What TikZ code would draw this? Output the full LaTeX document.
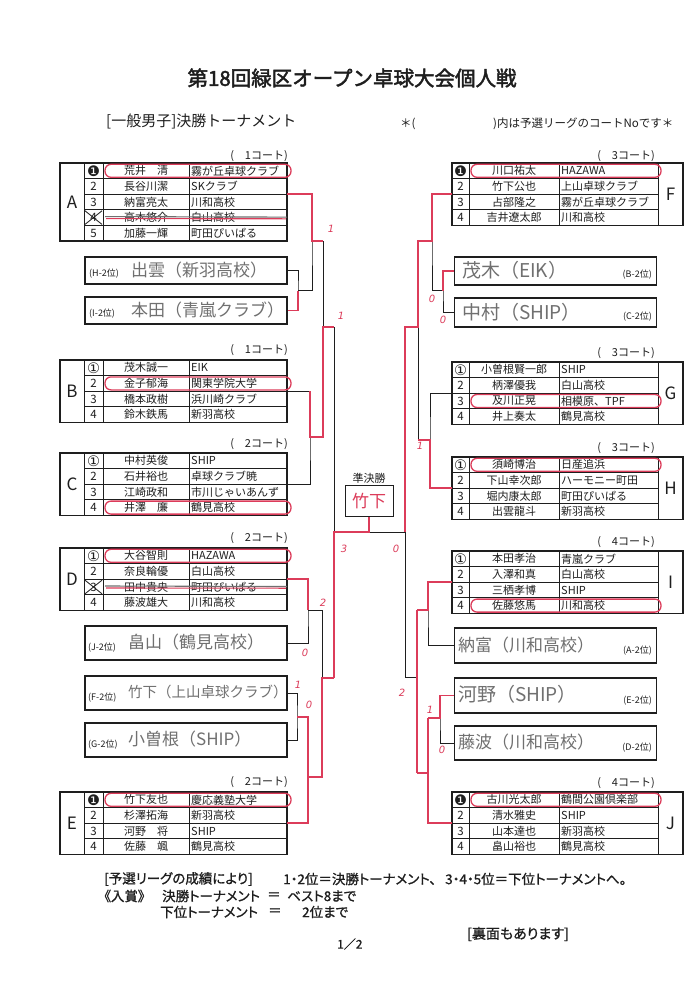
\documentclass[tikz,border=0pt]{standalone}
\usepackage{fontspec}
\setmainfont{Noto Sans CJK JP}
\newfontfamily\jpp{Noto Sans CJK JP}[RawFeature=+palt,FakeBold=1]
\newfontfamily\jpb{Noto Sans CJK JP}[FakeBold=2.2]
\newfontfamily\djfont{DejaVu Sans}
\definecolor{ink}{HTML}{1E1E1E}
\definecolor{penred}{HTML}{DC3C5A}
\definecolor{pencil}{HTML}{707070}
\newcommand\cn[1]{{\djfont\fontsize{14.5}{14.5}\selectfont #1}}

\newcommand\Ltab[4]{%
  \pgfmathsetmacro\yb{#1+#3*15.6}%
  \draw[tline] (60,#1) rectangle (287,\yb);%
  \draw[iline] (84,#1) -- (84,\yb) (103,#1) -- (103,\yb) (189,#1) -- (189,\yb);%
  \foreach \k in {2,...,#3}{\draw[iline] (84,{#1+(\k-1)*15.6}) -- (287,{#1+(\k-1)*15.6});}%
  \node[lett] (#2) at (72,{(#1+\yb)/2}) {#2};%
  \foreach \nv/\nm/\cb [count=\i] in {#4}{%
    \node[numt] (#2\i) at (93.5,{#1+(\i-0.5)*15.6}) {\nv};%
    \node[namet] (#2\i n) at (146,{#1+(\i-0.5)*15.6}) {\nm};%
    \node[clubt] (#2\i c) at (191,{#1+(\i-0.5)*15.6}) {\cb};%
  }%
}
\newcommand\Rtab[4]{%
  \pgfmathsetmacro\yb{#1+#3*15.6}%
  \draw[tline] (452,#1) rectangle (683,\yb);%
  \draw[iline] (469,#1) -- (469,\yb) (559,#1) -- (559,\yb) (658,#1) -- (658,\yb);%
  \foreach \k in {2,...,#3}{\draw[iline] (452,{#1+(\k-1)*15.6}) -- (658,{#1+(\k-1)*15.6});}%
  \node[lett] (#2) at (670.5,{(#1+\yb)/2}) {#2};%
  \foreach \nv/\nm/\cb [count=\i] in {#4}{%
    \node[numt] (#2\i) at (460.5,{#1+(\i-0.5)*15.6}) {\nv};%
    \node[namet] (#2\i n) at (514,{#1+(\i-0.5)*15.6}) {\nm};%
    \node[clubt] (#2\i c) at (561,{#1+(\i-0.5)*15.6}) {\cb};%
  }%
}
\newcommand\Lov[2]{\draw[rov] (105,{#1+(#2-1)*15.6+1.3}) rectangle (291,{#1+#2*15.6-1.3});}
\newcommand\Rov[2]{\draw[rov] (471,{#1+(#2-1)*15.6+1.3}) rectangle (661,{#1+#2*15.6-1.3});}
\newcommand\Xout[3]{%
  \draw[iline] (#1+1,{#2+(#3-1)*15.6+1}) -- (#1+18,{#2+#3*15.6-1}) (#1+18,{#2+(#3-1)*15.6+1}) -- (#1+1,{#2+#3*15.6-1});
  \draw[pencil,line width=1.1pt] (105,{#2+(#3-0.5)*15.6-1}) -- (287,{#2+(#3-0.5)*15.6-0.5});
  \draw[penred,line width=1.1pt] (106,{#2+(#3-0.5)*15.6+1}) -- (286,{#2+(#3-0.5)*15.6+1.2});}

\begin{document}
\begin{tikzpicture}[x=1pt,y=-1pt,
  tline/.style={draw=ink,line width=1.1pt},
  iline/.style={draw=ink,line width=0.8pt},
  bl/.style={draw=ink,line width=1pt},
  rl/.style={draw=penred,line width=1.6pt},
  rov/.style={draw=penred,line width=1.3pt,rounded corners=6pt},
  lett/.style={font=\fontsize{17}{17}\selectfont,inner sep=0pt,text=ink},
  numt/.style={font=\fontsize{11.5}{11.5}\selectfont,inner sep=0pt,text=ink},
  namet/.style={font=\fontsize{11}{11}\selectfont,inner sep=0pt,text=ink},
  clubt/.style={font=\fontsize{11}{11}\selectfont,inner sep=0pt,anchor=west,text=ink},
  court/.style={font=\fontsize{11}{11}\selectfont,inner sep=0pt,text=ink,anchor=east},
  hbox/.style={draw=ink,line width=1.1pt,minimum width=202pt,inner sep=0pt},
  hand/.style={font=\fontsize{17}{17}\selectfont,text=pencil,inner sep=0pt,anchor=west},
  small/.style={font=\fontsize{9}{9}\selectfont,text=ink,inner sep=0pt},
  score/.style={font=\djfont\itshape\fontsize{10}{10}\selectfont,text=penred,inner sep=0pt},
  foot/.style={font=\jpp\fontsize{13.5}{13.5}\selectfont,text=ink,inner sep=0pt,anchor=west}
]
\useasboundingbox (0,0) rectangle (700,991);
\fill[white] (0,0) rectangle (700,991);

% titles
\node[font=\jpb\fontsize{20.5}{20.5}\selectfont,text=ink,inner sep=0pt] (title) at (352,78) {第18回緑区オープン卓球大会個人戦};
\node[font=\fontsize{15}{15}\selectfont,text=ink,inner sep=0pt,anchor=west] (sub) at (106,121) {[一般男子]決勝トーナメント};
\node[font=\fontsize{11.5}{11.5}\selectfont,text=ink,inner sep=0pt,anchor=west] (note1) at (400,124) {＊(};
\node[font=\fontsize{11.5}{11.5}\selectfont,text=ink,inner sep=0pt,anchor=west] (note2) at (493,124) {)内は予選リーグのコートNoです＊};

% ---------- left tables ----------
\node[court] (cA) at (288,156) {(　1コート)};
\Ltab{163}{A}{5}{{\cn{❶}}/荒井　清/霧が丘卓球クラブ,2/長谷川潔/SKクラブ,3/納富亮太/川和高校,4/高木悠介/白山高校,5/加藤一輝/町田ぴいぱる}
\node[court] (cB) at (288,350) {(　1コート)};
\Ltab{360}{B}{4}{{\cn{①}}/茂木誠一/EIK,2/金子郁海/関東学院大学,3/橋本政樹/浜川崎クラブ,4/鈴木鉄馬/新羽高校}
\node[court] (cC) at (288,444) {(　2コート)};
\Ltab{453}{C}{4}{{\cn{①}}/中村英俊/SHIP,2/石井裕也/卓球クラブ暁,3/江崎政和/市川じゃいあんず,4/井澤　廉/鶴見高校}
\node[court] (cD) at (288,538) {(　2コート)};
\Ltab{548}{D}{4}{{\cn{①}}/大谷智則/HAZAWA,2/奈良輪優/白山高校,3/田中貴央/町田ぴいぱる,4/藤波雄大/川和高校}
\node[court] (cE) at (288,782) {(　2コート)};
\Ltab{792}{E}{4}{{\cn{❶}}/竹下友也/慶応義塾大学,2/杉澤拓海/新羽高校,3/河野　将/SHIP,4/佐藤　颯/鶴見高校}

% ---------- right tables ----------
\node[court] (cF) at (655,156) {(　3コート)};
\Rtab{163}{F}{4}{{\cn{❶}}/川口祐太/HAZAWA,2/竹下公也/上山卓球クラブ,3/占部隆之/霧が丘卓球クラブ,4/吉井遼太郎/川和高校}
\node[court] (cG) at (655,353) {(　3コート)};
\Rtab{362}{G}{4}{{\cn{①}}/小曽根賢一郎/SHIP,2/柄澤優我/白山高校,3/及川正晃/相模原、TPF,4/井上奏太/鶴見高校}
\node[court] (cH) at (655,448) {(　3コート)};
\Rtab{457}{H}{4}{{\cn{①}}/須崎博治/日産追浜,2/下山幸次郎/ハーモニー町田,3/堀内康太郎/町田ぴいぱる,4/出雲龍斗/新羽高校}
\node[court] (cI) at (655,542) {(　4コート)};
\Rtab{551}{I}{4}{{\cn{①}}/本田孝治/青嵐クラブ,2/入澤和真/白山高校,3/三栖孝博/SHIP,4/佐藤悠馬/川和高校}
\node[court] (cJ) at (655,783) {(　4コート)};
\Rtab{792}{J}{4}{{\cn{❶}}/古川光太郎/鶴間公園倶楽部,2/清水雅史/SHIP,3/山本達也/新羽高校,4/畠山裕也/鶴見高校}

% cross-outs and ovals
\Xout{84}{163}{4}
\Xout{84}{548}{3}
\Lov{163}{1} \Lov{360}{2} \Lov{453}{4} \Lov{548}{1} \Lov{792}{1}
\Rov{163}{1} \Rov{362}{3} \Rov{457}{1} \Rov{551}{4} \Rov{792}{1}

% ---------- handwritten boxes ----------
\node[hbox,minimum height=27pt] (h2) at (186,270.5) {};
\node[small,anchor=west] (h2l) at (89,274) {(H-2位)};
\node[hand] (h2t) at (131,270) {出雲（新羽高校）};
\node[hbox,minimum height=27pt] (i2) at (186,310.5) {};
\node[small,anchor=west] (i2l) at (89,314) {(I-2位)};
\node[hand] (i2t) at (131,310) {本田（青嵐クラブ）};
\node[hbox,minimum height=34pt] (j2) at (186,643) {};
\node[small,anchor=west] (j2l) at (88,648) {(J-2位)};
\node[hand] (j2t) at (128,642) {畠山（鶴見高校）};
\node[hbox,minimum height=34pt] (f2) at (186,693) {};
\node[small,anchor=west] (f2l) at (88,698) {(F-2位)};
\node[hand,font=\fontsize{14.5}{14.5}\selectfont] (f2t) at (128,692) {竹下（上山卓球クラブ）};
\node[hbox,minimum height=34pt] (g2) at (186,740) {};
\node[small,anchor=west] (g2l) at (88,745) {(G-2位)};
\node[hand] (g2t) at (128,739) {小曽根（SHIP）};

\node[hbox,minimum height=28pt] (b2) at (555.5,271) {};
\node[hand,font=\fontsize{19}{19}\selectfont] (b2t) at (462,270) {茂木（EIK）};
\node[small,anchor=east] (b2l) at (652,275) {(B-2位)};
\node[hbox,minimum height=29pt] (c2) at (555.5,312.5) {};
\node[hand,font=\fontsize{19}{19}\selectfont] (c2t) at (462,312) {中村（SHIP）};
\node[small,anchor=east] (c2l) at (652,317) {(C-2位)};
\node[hbox,minimum height=35pt] (a2) at (555.5,645.5) {};
\node[hand] (a2t) at (458,645) {納富（川和高校）};
\node[small,anchor=east] (a2l) at (652,651) {(A-2位)};
\node[hbox,minimum height=35pt] (e2) at (555.5,695.5) {};
\node[hand,font=\fontsize{19}{19}\selectfont] (e2t) at (458,694) {河野（SHIP）};
\node[small,anchor=east] (e2l) at (652,701) {(E-2位)};
\node[hbox,minimum height=34pt] (d2) at (555.5,743) {};
\node[hand] (d2t) at (458,742) {藤波（川和高校）};
\node[small,anchor=east] (d2l) at (652,748) {(D-2位)};

% ---------- semifinal box ----------
\node[font=\fontsize{11}{11}\selectfont,text=ink,inner sep=0pt] (sflab) at (369,478) {準決勝};
\node[draw=ink,line width=1pt,minimum width=48pt,minimum height=31pt,inner sep=0pt] (sf) at (369,500.5) {};
\node[font=\fontsize{17}{17}\selectfont,text=penred,inner sep=0pt] (sft) at (369,501) {竹下};

% ---------- coordinates ----------
\coordinate (Ae) at (287,194.2);
\coordinate (Be) at (287,391.2);
\coordinate (Ce) at (287,484.2);
\coordinate (De) at (287,579.2);
\coordinate (Ee) at (287,823.2);
\coordinate (Fe) at (452,194.2);
\coordinate (Ge) at (452,393.2);
\coordinate (He) at (452,488.2);
\coordinate (Ie) at (452,582.2);
\coordinate (Je) at (452,823.2);
\coordinate (m1) at (298,290.5);
\coordinate (m2) at (312,241);
\coordinate (m3) at (310,437);
\coordinate (m3t) at (310,391.2);
\coordinate (m4) at (323,327);
\coordinate (m5) at (308,610);
\coordinate (m6) at (297,717);
\coordinate (m7) at (308,777);
\coordinate (m8) at (322,678);
\coordinate (slt) at (334,327);
\coordinate (slm) at (334,532);
\coordinate (slb) at (334,678);
\coordinate (n1) at (443,290.5);
\coordinate (n2) at (432,241);
\coordinate (n3) at (430,440);
\coordinate (n4) at (418,327);
\coordinate (n5) at (428,610);
\coordinate (n6) at (440,718);
\coordinate (n7) at (428,773);
\coordinate (n8) at (417,677);
\coordinate (srt) at (405,327);
\coordinate (srm) at (405,532);
\coordinate (srb) at (405,677);
\coordinate (sfj) at (369,532);

% ---------- black bracket lines ----------
\draw[bl] (h2.east) -| (m1) |- (i2.east);
\draw[bl] (m1) -- (m1 -| m2);
\draw[bl] (Ae) -| (m2) -- (m1 -| m2);
\draw[bl] (m2) -- (m2 -| m4);
\draw[bl] (Be) -| (m3) |- (Ce);
\draw[bl] (m3) -- (m3 -| m4);
\draw[bl] (m2 -| m4) -- (m3 -| m4);
\draw[bl] (m4) -- (slt);
\draw[bl] (De) -| (m5) |- (j2.east);
\draw[bl] (m5) -- (m5 -| m8);
\draw[bl] (f2.east) -| (m6) |- (g2.east);
\draw[bl] (m6) -- (m6 -| m7);
\draw[bl] (m6 -| m7) -- (m7) |- (Ee);
\draw[bl] (m7) -- (m7 -| m8);
\draw[bl] (m5 -| m8) -- (m7 -| m8);
\draw[bl] (m8) -- (slb);
\draw[bl] (slt) -- (slb);
\draw[bl] (srt) -- (srb);
\draw[bl] (slm) -- (srm);
\draw[bl] (sf.south) -- (sfj);
\draw[bl] (b2.west) -| (n1) |- (c2.west);
\draw[bl] (n1) -- (n1 -| n2);
\draw[bl] (Fe) -| (n2) -- (n1 -| n2);
\draw[bl] (n2) -- (n2 -| n4);
\draw[bl] (Ge) -| (n3) |- (He);
\draw[bl] (n3) -- (n3 -| n4);
\draw[bl] (n2 -| n4) -- (n3 -| n4);
\draw[bl] (n4) -- (srt);
\draw[bl] (Ie) -| (n5) |- (a2.west);
\draw[bl] (n5) -- (n5 -| n8);
\draw[bl] (e2.west) -| (n6) |- (d2.west);
\draw[bl] (n6) -- (n6 -| n7);
\draw[bl] (n6 -| n7) -- (n7) |- (Je);
\draw[bl] (n7) -- (n7 -| n8);
\draw[bl] (n5 -| n8) -- (n7 -| n8);
\draw[bl] (n8) -- (srb);

% ---------- red traced paths ----------
\draw[rl] (Ae) -| (m2) -- (m2 -| m4);
\draw[rl] (i2.east) -| (m1);
\draw[rl] (m3t) -- (m3) -- (m3 -| m4) -- (m4) -- (slt);
\draw[rl] (De) -| (m5);
\draw[rl] (m6) -- (m6 -| m7) -- (m7) |- (Ee);
\draw[rl] (m7) -- (m7 -| m8) -- (m8) -- (slb);
\draw[rl] (slb) -- (slm) -- (sfj) -- (sf.south);
\draw[rl] (Fe) -| (n2) -- (n2 -| n4) -- (n4) -- (srt) -- (srm);
\draw[rl] (b2.west) -| (n1);
\draw[rl] (He) -| (n3) -- (n3 -| n4);
\draw[rl] (Ie) -| (n5) -- (n5 -| n8);
\draw[rl] (e2.west) -| (n6) -- (n6 -| n7);
\draw[rl] (Je) -| (n6 -| n7);
\draw[rl] (n7) -- (n7 -| n8);
\draw[rl] (n5 -| n8) -- (n7 -| n8);

% ---------- scores ----------
\node[score] (s1) at (331,229) {1};
\node[score] (s2) at (341,316) {1};
\node[score] (s3) at (323,603) {2};
\node[score] (s4) at (305,653) {0};
\node[score] (s5) at (298,685) {1};
\node[score] (s6) at (309,705) {0};
\node[score] (s7) at (344,549) {3};
\node[score] (s8) at (396,549) {0};
\node[score] (s9) at (432,299) {0};
\node[score] (s10) at (443,320) {0};
\node[score] (s11) at (420,446) {1};
\node[score] (s12) at (402,693) {2};
\node[score] (s13) at (430,710) {1};
\node[score] (s14) at (442,750) {0};

% ---------- footer ----------
\node[foot] (f1a) at (104,879) {[予選リーグの成績により]};
\node[foot] (f1b) at (283,879) {1・2位＝決勝トーナメント、};
\node[foot] (f1c) at (445,879) {3・4・5位＝下位トーナメントへ。};
\node[foot] (f2a) at (104,896) {《入賞》};
\node[foot] (f2b) at (162,896) {決勝トーナメント};
\node[foot] (f2c) at (267,896) {＝};
\node[foot] (f2d) at (287,896) {ベスト8まで};
\node[foot] (f3a) at (160,912) {下位トーナメント};
\node[foot] (f3b) at (268,912) {＝};
\node[foot] (f3c) at (302,912) {2位まで};
\node[foot,font=\jpp\fontsize{14}{14}\selectfont] (f4) at (467,934) {[裏面もあります]};
\node[foot,font=\jpp\fontsize{12}{12}\selectfont] (f5) at (337,944) {1／2};
\end{tikzpicture}
\end{document}
